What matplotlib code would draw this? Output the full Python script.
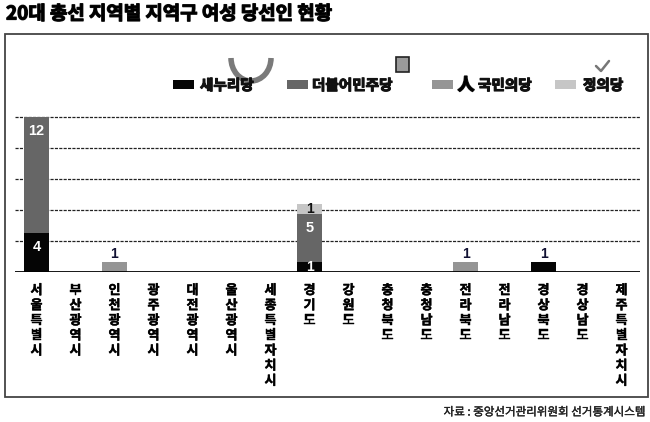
import matplotlib
matplotlib.use("Agg")
import matplotlib.pyplot as plt
import matplotlib.patheffects as pe
from matplotlib.patches import Rectangle, Arc

plt.rcParams['font.family'] = ['Noto Sans CJK KR', 'DejaVu Sans']

# 데이터
regions = ['서울특별시', '부산광역시', '인천광역시', '광주광역시', '대전광역시', '울산광역시',
           '세종특별자치시', '경기도', '강원도', '충청북도', '충청남도', '전라북도',
           '전라남도', '경상북도', '경상남도', '제주특별자치시']
saenuri = [4, 0, 0, 0, 0, 0, 0, 1, 0, 0, 0, 0, 0, 1, 0, 0]
minjoo = [12, 0, 0, 0, 0, 0, 0, 5, 0, 0, 0, 0, 0, 0, 0, 0]
kookmin = [0, 0, 1, 0, 0, 0, 0, 0, 0, 0, 0, 1, 0, 0, 0, 0]
justice = [0, 0, 0, 0, 0, 0, 0, 1, 0, 0, 0, 0, 0, 0, 0, 0]
parties = ['새누리당', '더불어민주당', '국민의당', '정의당']
colors = ['#050505', '#666666', '#959595', '#c6c6c6']
series = [saenuri, minjoo, kookmin, justice]
grid_vals = [3.2, 6.4, 9.6, 12.8, 16]

W, H = 650, 422
fig = plt.figure(figsize=(W / 100, H / 100), dpi=100)


def heavy(w, c='#111111'):
    # 굵은 글씨 흉내
    return [pe.withStroke(linewidth=w, foreground=c)]


# 배경용 축 (픽셀 좌표)
bg = fig.add_axes([0, 0, 1, 1])
bg.set_xlim(0, W)
bg.set_ylim(H, 0)
bg.axis('off')

bg.add_patch(Rectangle((5, 34), 643, 363, fill=False, ec='#444444', lw=1.3))
bg.text(6, 14, '20대 총선 지역별 지역구 여성 당선인 현황', fontsize=13.6,
        fontweight='bold', va='center', ha='left', path_effects=heavy(0.9))
bg.text(646, 412, '자료 : 중앙선거관리위원회 선거통계시스템', fontsize=8.3,
        va='center', ha='right', color='#222222', path_effects=heavy(0.25, '#222222'))

# 범례
leg_sq = [173, 287, 432, 555]
leg_tx = [200, 312, 478, 583]
for sx, tx, name, c in zip(leg_sq, leg_tx, parties, colors):
    bg.add_patch(Rectangle((sx, 80), 21, 9, color=c, lw=0))
    bg.text(tx, 85, name, fontsize=10.5, fontweight='bold', va='center',
            ha='left', color='#111111', path_effects=heavy(0.8))
# 로고 흉내
bg.add_patch(Arc((251, 58), 40, 46, theta1=0, theta2=180, lw=4, color='#7a7a7a'))
bg.add_patch(Rectangle((396, 57), 13, 15, fc='#9a9a9a', ec='#222222', lw=1.2))
bg.text(466, 85, '人', fontsize=12, fontweight='bold', va='center', ha='center',
        path_effects=heavy(1.2))
bg.plot([596, 601, 609], [66, 71, 61], color='#777777', lw=1.8,
        solid_capstyle='round')

# 본 차트
ax = fig.add_axes([15 / W, 1 - 272 / H, (640 - 15) / W, (272 - 117) / H])
ax.patch.set_alpha(0)
x = list(range(len(regions)))
ax.set_xlim(-0.551, 15.474)
ax.set_ylim(0, 16)

for g in grid_vals:
    ax.axhline(g, color='#222222', lw=0.9, ls=(0, (2.5, 1)), zorder=1, clip_on=False)

bottom = [0] * len(regions)
for vals, c in zip(series, colors):
    ax.bar(x, vals, bottom=bottom, width=0.64, color=c, zorder=2)
    bottom = [b + v for b, v in zip(bottom, vals)]

# 값 레이블
for i in x:
    base = 0
    n_seg = sum(1 for s in series if s[i] > 0)
    for k, vals in enumerate(series):
        v = vals[i]
        if v == 0:
            continue
        top = base + v
        if n_seg == 1 and v == 1:
            ax.annotate(str(v), (i, top), xytext=(0, 1), textcoords='offset points',
                        ha='center', va='bottom', fontsize=10, color='#111133',
                        family='Liberation Sans', fontweight='bold')
        elif v >= 3:
            ax.annotate(str(v), (i, top), xytext=(0, -10), textcoords='offset points',
                        ha='center', va='center', fontsize=10.5, color='white',
                        family='Liberation Sans', fontweight='bold')
        else:
            tc = 'white' if k < 2 else '#111111'
            ax.text(i, base + v / 2, str(v), ha='center', va='center', fontsize=10,
                    color=tc, family='Liberation Sans', fontweight='bold', zorder=3)
        base = top

ax.axhline(0, color='black', lw=2, zorder=4)
for s in ax.spines.values():
    s.set_visible(False)
ax.set_yticks([])
ax.set_xticks(x)
ax.set_xticklabels(['\n'.join(r) for r in regions], fontsize=9.4, fontweight='bold',
                   va='top', linespacing=1.1)
for t in ax.get_xticklabels():
    t.set_path_effects(heavy(0.35))
ax.tick_params(axis='x', length=0, pad=8)

fig.savefig('out.png', dpi=100)
